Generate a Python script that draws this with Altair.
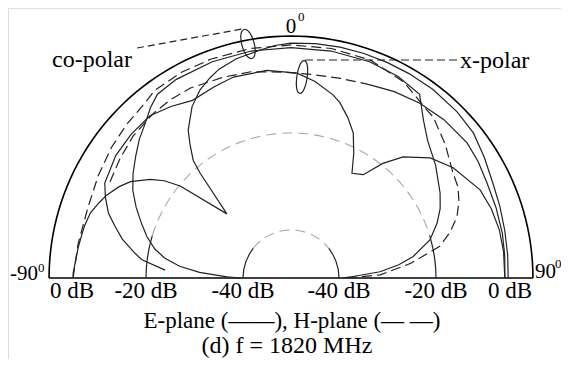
import altair as alt
import pandas as pd

# ---------------- traced pattern data: angle (deg, 0 = broadside) / level (dB) -------------
# E-plane co-polar (solid, with deep null near -45 deg)
p_theta = [-90, -88.7, -81.7, -76, -72, -68.5, -65.7, -62, -59, -55, -52.5, -50.3, -45, -40.9, -39.7,
           -37, -34.8, -30, -25.8, -22, -19, -14, -8.5, -4, 0, 6, 12, 18, 24, 30, 37, 45, 51.5, 58,
           64.8, 71, 77.4, 84, 90]
p_db = [-0.3, -0.3, -1.1, -1.6, -2.2, -3.5, -4.6, -6.6, -8.6, -12.7, -16.0, -20.2, -31.2, -21.2, -17.8,
        -13.8, -10.5, -5.7, -2.7, -0.8, 0.5, 1.9, 2.8, 3.8, 4.3, 4.5, 4.6, 4.6, 4.6, 4.6, 4.6, 4.3, 3.8, 2.4,
        1.1, 0.5, 0.0, -0.3, -0.5]

# x-polar (solid, with notch near +30 deg)
q_theta = [-86.4, -83, -81, -77, -73.5, -70.4, -66.5, -63, -55, -48, -41, -35, -29, -22, -16, -6.6, 1.7,
           7, 12.9, 15.6, 19.5, 23.2, 26.7, 30.2, 35, 38.7, 42.8, 49.2, 55.8, 65, 71, 77, 83, 90]
q_db = [-23.9, -18.6, -16.5, -12.4, -9.5, -6.8, -4.5, -2.7, -1.4, -1.1, -1.1, -2.6, -4.3, -3.5, -2.7, -2.7,
        -3.8, -5.7, -8.4, -10.0, -13.2, -16.5, -21.1, -24.9, -23.9, -19.5, -14.6, -9.5, -6.2, -2.8, -1.9,
        -1.4, -1.3, -1.4]

# H-plane co-polar (dashed)
r_theta = [-90, -81, -71, -62, -54, -47, -40, -36, -28, -20, -10, 0, 10, 20, 30, 39, 41.4, 49, 57, 61.4,
           65.5, 69.8, 74, 78, 83, 88, 90]
r_db = [-0.3, -0.9, -1.1, -0.2, 0.8, 1.6, 2.4, 3.5, 3.8, 3.8, 3.8, 3.8, 3.8, 3.5, 1.9, -0.8, -1.1, -4.0,
        -7.0, -7.8, -9.3, -11.4, -14.5, -18.1, -25.0, -31.5, -38.4]

# E-plane pattern falling to -40 dB at endfire (solid)
e_theta = [-90, -89, -86.5, -84, -81, -78, -74, -70, -65.5, -61, -56.5, -52, -47.5, -43, -39.5, -36, -30,
           -20, -10, 0, 10, 20, 28, 35, 40, 44.8, 52, 60.3, 65, 69.4, 74.7, 80, 83, 86, 89, 90]
e_db = [-39.4, -36.7, -31.0, -26.8, -23.5, -21.2, -18.7, -16.2, -13.2, -10.3, -8.0, -5.9, -3.6, -1.6, 0.5,
        2.2, 2.8, 3.0, 3.1, 3.1, 3.1, 3.0, 2.5, 1.4, -3.5, -6.8, -9.6, -12.8, -14.7, -17.0, -20.2, -24.3,
        -27.5, -31.5, -37.7, -39.2]

# H-plane x-polar (dashed) and its solid continuation
x_theta = [-62, -55, -48, -40, -34, -27.9, -18.7, -11, -2, 6, 14, 22]
x_db = [-3.8, -2.8, -1.8, -1.2, -1.0, -1.1, -1.9, -2.4, -3.5, -3.9, -3.6, -2.8]
t_theta = [22, 29, 36.4, 44, 52.5, 58, 64, 71, 78, 84, 90]
t_db = [-2.8, -1.6, -0.5, 0.3, 0.8, 0.4, -0.3, -0.6, -0.8, -1.1, -1.4]

# grid rings / frame
frame_theta = list(range(-90, 91, 2))
frame_db = 6.2
ring20_theta = list(range(-73, 74, 2))
ring40_theta = list(range(-52, 53, 4))
tick20_left = [-90, -86, -82, -78, -74, -73]
tick40_left = [-90, -80, -70, -60, -52]

tick_db = [0, -20, -40]
tick_text = ["0 dB", "-20 dB", "-40 dB"]

# ---------------- build tables ----------------
rows = []


def add(name, style, th, db):
    if not isinstance(db, list):
        db = [db] * len(th)
    for i, (t, d) in enumerate(zip(th, db)):
        rows.append({"curve": name, "style": style, "i": i, "theta": t, "db": d})


add("P", "solid", p_theta, p_db)
add("Q", "solid", q_theta, q_db)
add("E", "solid", e_theta, e_db)
add("T", "solid", t_theta, t_db)
add("R", "dashed", r_theta, r_db)
add("X", "dashed", x_theta, x_db)
add("g20", "gray", ring20_theta, -20)
add("g40", "gray", ring40_theta, -40)
add("t20l", "solid", tick20_left, -20)
add("t20r", "solid", [-v for v in tick20_left], -20)
add("t40l", "solid", tick40_left, -40)
add("t40r", "solid", [-v for v in tick40_left], -40)
add("frame", "frame", frame_theta, frame_db)
add("base", "frame", [-90, 90], frame_db)
df = pd.DataFrame(rows)

ticks = pd.DataFrame({
    "theta": [-90] * 3 + [90] * 3,
    "db": tick_db + tick_db,
    "label": tick_text + tick_text,
})

R_EXPR = ("datum.db >= -20 ? 145 + (datum.db + 20) * 3.7 : "
          "(datum.db >= -40 ? 48 + (datum.db + 40) * 4.85 : max(0, (datum.db + 50) * 4.8))")

xs = alt.Scale(domain=[-283, 270], nice=False, zero=False)
ys = alt.Scale(domain=[-81, 270], nice=False, zero=False)


def polar(chart):
    return chart.transform_calculate(
        r=R_EXPR
    ).transform_calculate(
        x="datum.r * sin(datum.theta * PI / 180)",
        y="datum.r * cos(datum.theta * PI / 180)",
    )


X = alt.X("x:Q", scale=xs, axis=None)
Y = alt.Y("y:Q", scale=ys, axis=None)

base = polar(alt.Chart(df))


def lines(style, **kw):
    return base.transform_filter(alt.datum.style == style).mark_line(**kw).encode(
        x=X, y=Y, detail="curve:N", order="i:Q")


frame = lines("frame", color="#000000", strokeWidth=1.6)
gray = lines("gray", color="#a8a8a8", strokeWidth=1.1, strokeDash=[10, 6])
solid = lines("solid", color="#222222", strokeWidth=1.2)
dashed = lines("dashed", color="#222222", strokeWidth=1.2, strokeDash=[10, 5])

FONT = "Liberation Serif"

tick_labels = polar(alt.Chart(ticks)).mark_text(
    font=FONT, fontSize=23, baseline="alphabetic", align="center", dy=20, color="#000"
).encode(x=X, y=Y, text="label:N")

one = pd.DataFrame({"k": [0]})


def txt(s, x, y, size=23, align="left"):
    return alt.Chart(one).mark_text(
        text=s, font=FONT, fontSize=size, align=align, baseline="alphabetic", color="#000"
    ).encode(x=alt.X(datum=x, type="quantitative", scale=xs, axis=None),
             y=alt.Y(datum=y, type="quantitative", scale=ys, axis=None))


def seg(pts, dash):
    d = pd.DataFrame({"px": [p[0] for p in pts], "py": [p[1] for p in pts], "i": list(range(len(pts)))})
    return alt.Chart(d).mark_line(color="#222", strokeWidth=1.2, strokeDash=dash).encode(
        x=alt.X("px:Q", scale=xs, axis=None), y=alt.Y("py:Q", scale=ys, axis=None), order="i:Q")


co_ptr = seg([(-154, 230), (-49, 249)], [7, 4])
x_ptr = seg([(166, 218), (14, 218), (12, 215)], [8, 4])


def ellipse(x, y, size, c, angle):
    path = f"M0,-1C{c},-1 {c},1 0,1C-{c},1 -{c},-1 0,-1Z"
    return alt.Chart(one).mark_point(
        shape=path, size=size, filled=False, stroke="#222", strokeWidth=1.2, angle=angle, opacity=1
    ).encode(x=alt.X(datum=x, type="quantitative", scale=xs, axis=None),
             y=alt.Y(datum=y, type="quantitative", scale=ys, axis=None))


co_ell = ellipse(-43, 234, 900, 0.55, 345)
x_ell = ellipse(11, 201, 1089, 0.42, 8)

texts = [
    txt("co-polar", -199, 211, 24, "center"),
    txt("x-polar", 169, 210, 24, "left"),
    txt("0", 0, 245, 21, "center"),
    txt("0", 7, 257, 13, "left"),
    txt("-90", -253, -2, 21, "right"),
    txt("0", -253, 6, 13, "left"),
    txt("90", 244, 0, 21, "left"),
    txt("0", 264, 10, 13, "left"),
    txt("E-plane (\u2014\u2014), H-plane (\u2014 \u2014)", 1, -50, 23, "center"),
    txt("(d) f = 1820 MHz", -4, -75, 24, "center"),
]

chart = alt.layer(
    gray, frame, solid, dashed, co_ptr, x_ptr, co_ell, x_ell, tick_labels, *texts
).properties(
    width=553, height=351, padding=0, autosize=alt.AutoSizeParams(type="none"), background="white"
).configure_view(stroke=None).configure(font=FONT)

chart.save("out.html", embed_options={"renderer": "svg", "actions": False})
